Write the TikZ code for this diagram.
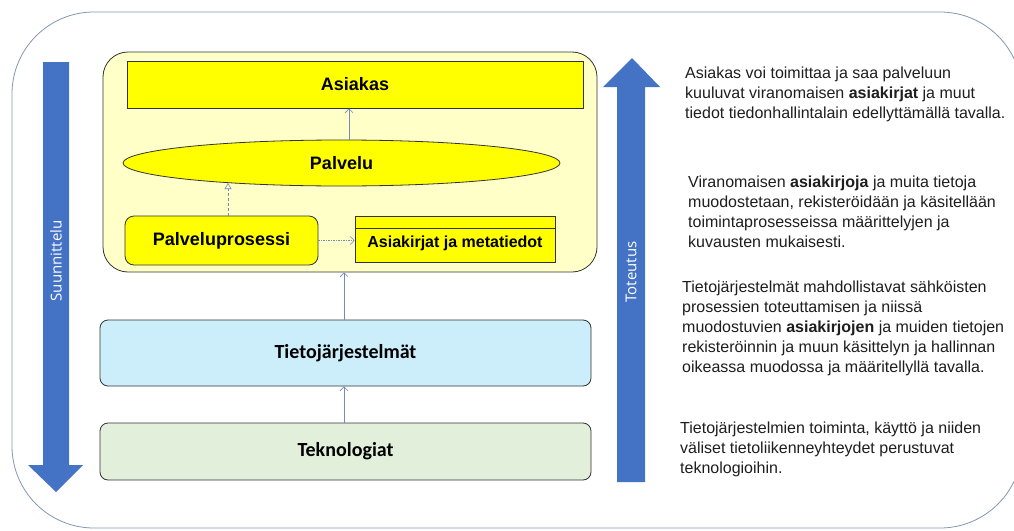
\documentclass[tikz,border=0pt]{standalone}
\usepackage{fontspec}
\setmainfont{Liberation Sans}
\newfontfamily\calfont{Carlito}
\newfontfamily\nuolifont{Open Sans}
\usetikzlibrary{shapes.geometric, arrows.meta}
\definecolor{ulkoreuna}{HTML}{8497B0}
\definecolor{nuolensin}{HTML}{4472C4}
\definecolor{yhteys}{HTML}{7489BC}
\definecolor{vaaleakelt}{HTML}{FFFFC8}
\definecolor{keltainen}{HTML}{FFFF00}
\definecolor{vaaleasin}{HTML}{CCEEFA}
\definecolor{vaaleavihr}{HTML}{E2EFDA}
\definecolor{teksti}{HTML}{1E1E1E}

\begin{document}
\begin{tikzpicture}[x=1pt, y=-1pt,
        laatikko/.style={draw=black!80, line width=0.8pt, inner sep=0pt},
        otsikko/.style={font=\bfseries\fontsize{18}{20}\selectfont},
        kerros/.style={laatikko, rounded corners=8, minimum width=491,
            font=\calfont\bfseries\fontsize{20}{22}\selectfont},
        kuvaus/.style={anchor=north west, align=left, inner sep=0pt, text=teksti,
            font=\fontsize{16}{20}\selectfont},
        linkki/.style={draw=yhteys, line width=0.6pt, -{Straight Barb[length=4pt,width=8pt]}},
        nuoliteksti/.style={text=white, rotate=90, font=\nuolifont\fontsize{15}{17}\selectfont}]
    \useasboundingbox (0,0) rectangle (1014,530);
    \clip (0,0) rectangle (1014,530);
    \fill[white] (0,0) rectangle (1014,530);

    \draw[ulkoreuna, line width=0.8pt, rounded corners=82] (12,12) rectangle (1022,528);

    \fill[nuolensin] (43,62) -- (69,62) -- (69,465) -- (83,465) -- (56,492) -- (28,465) -- (43,465) -- cycle;
    \fill[nuolensin] (617,482) -- (645,482) -- (645,87) -- (660,87) -- (632,58) -- (603,87) -- (617,87) -- cycle;
    \node[nuoliteksti] (suunnittelu) at (56,261) {Suunnittelu};
    \node[nuoliteksti] (toteutus) at (631,272) {Toteutus};

    \node[laatikko, rounded corners=25, fill=vaaleakelt, minimum width=494, minimum height=220] (palvelukerros) at (350,162) {};
    \node[laatikko, otsikko, fill=keltainen, minimum width=456, minimum height=47] (asiakas) at (355,84.5) {Asiakas};
    \node[laatikko, otsikko, ellipse, fill=keltainen, minimum width=437, minimum height=46] (palvelu) at (341.5,163) {Palvelu};
    \node[laatikko, otsikko, rounded corners=9, fill=keltainen, minimum width=193, minimum height=49] (prosessi) at (221.5,240.5) {Palveluprosessi};
    \node[laatikko, fill=keltainen, minimum width=200, minimum height=46, text height=19.6pt, text depth=3.4pt,
        font=\bfseries\fontsize{16}{18}\selectfont] (asiakirjat) at (455,239) {Asiakirjat ja metatiedot};
    \draw[black!80, line width=0.8pt] ([yshift=-13pt]asiakirjat.north west) -- ([yshift=-13pt]asiakirjat.north east);

    \node[kerros, fill=vaaleasin, minimum height=66] (tietojarjestelmat) at (345.5,353) {Tietojärjestelmät};
    \node[kerros, fill=vaaleavihr, minimum height=57] (teknologiat) at (345.5,451.5) {Teknologiat};

    \draw[linkki] ([xshift=7.5pt]palvelu.north) -- ([xshift=7.5pt]palvelu.north |- asiakas.south);
    \draw[linkki, dash pattern=on 3pt off 2pt, -{Triangle[open,length=6pt,width=7pt]}] (prosessi.north -| palvelu.190) -- (palvelu.190);
    \draw[linkki, dash pattern=on 1.5pt off 1pt] (prosessi.east) -- (prosessi.east -| asiakirjat.west);
    \draw[linkki] ([xshift=-1.5pt]tietojarjestelmat.north) -- ([xshift=-1.5pt]tietojarjestelmat.north |- palvelukerros.south);
    \draw[linkki] ([xshift=-1.5pt]teknologiat.north) -- ([xshift=-1.5pt]tietojarjestelmat.south);

    \node[kuvaus] (kuvaus1) at (685,67) {Asiakas voi toimittaa ja saa palveluun\\
        kuuluvat viranomaisen \textbf{asiakirjat} ja muut\\
        tiedot tiedonhallintalain edellyttämällä tavalla.};
    \node[kuvaus] (kuvaus2) at (688,176) {Viranomaisen \textbf{asiakirjoja} ja muita tietoja\\
        muodostetaan, rekisteröidään ja käsitellään\\
        toimintaprosesseissa määrittelyjen ja\\
        kuvausten mukaisesti.};
    \node[kuvaus] (kuvaus3) at (682,281) {Tietojärjestelmät mahdollistavat sähköisten\\
        prosessien toteuttamisen ja niissä\\
        muodostuvien \textbf{asiakirjojen} ja muiden tietojen\\
        rekisteröinnin ja muun käsittelyn ja hallinnan\\
        oikeassa muodossa ja määritellyllä tavalla.};
    \node[kuvaus] (kuvaus4) at (680,422) {Tietojärjestelmien toiminta, käyttö ja niiden\\
        väliset tietoliikenneyhteydet perustuvat\\
        teknologioihin.};
\end{tikzpicture}
\end{document}
